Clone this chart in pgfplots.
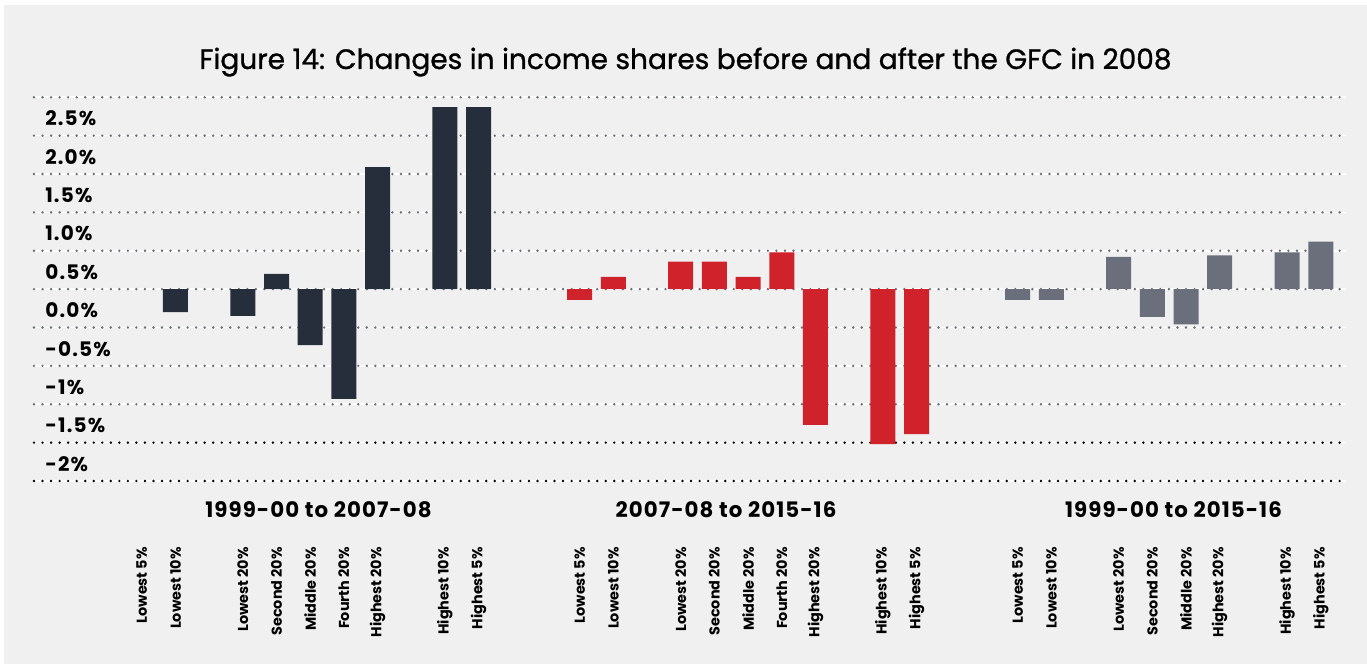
\documentclass[border=0pt]{standalone}
\usepackage{fontspec}
\setmainfont{Poppins}
\newfontfamily\titlefont[FakeBold=1]{Poppins}
\newfontfamily\yfont[LetterSpace=6]{Poppins}
\newfontfamily\grpfont[LetterSpace=5]{Poppins}
\usepackage{pgfplots}
\pgfplotsset{compat=1.18}
\definecolor{bg}{HTML}{F0F0F0}
\definecolor{navy}{HTML}{262D3B}
\definecolor{myred}{HTML}{D0222A}
\definecolor{mygray}{HTML}{6B6F7B}
\definecolor{dotgray}{HTML}{6A6E7A}
\begin{document}
\begin{tikzpicture}
\fill[white] (0,0) rectangle (1025.25pt,498pt);
\fill[bg] (3pt,0) rectangle (1025.25pt,494.25pt);
\begin{axis}[
  at={(25.5pt,137.25pt)}, anchor=south west,
  scale only axis, width=984pt, height=287.8pt,
  xmin=-3.2, xmax=35.75, ymin=-2.5, ymax=2.5,
  axis line style={draw=none}, major tick length=0pt,
  ytick={-1.5,-1,-0.5,0,0.5,1,1.5,2,2.5},
  yticklabels={-1.5\%,-1\%,-0.5\%,0.0\%,0.5\%,1.0\%,1.5\%,2.0\%,2.5\%},
  extra y ticks={-2,-2.5},
  extra y tick labels={-2\%,{}},
  ymajorgrids,
  major grid style={draw=dotgray, line width=2pt, line cap=round, dash pattern=on 0pt off 6.4pt, preaction={draw=white, line width=1.2pt, solid}},
  extra y tick style={major grid style={draw=black, line width=2pt, line cap=round, dash pattern=on 0pt off 6.4pt, preaction={draw=white, line width=1.2pt, solid}}},
  yticklabel style={anchor=west, inner sep=0pt, xshift=8.25pt, yshift=-15.9pt, font=\yfont\fontsize{15}{18}\selectfont\bfseries},
  xtick={0,1,3,4,5,6,7,9,10,13,14,16,17,18,19,20,22,23,26,27,29,30,31,32,34,35},
  xticklabels={Lowest 5\%,Lowest 10\%,Lowest 20\%,Second 20\%,Middle 20\%,Fourth 20\%,Highest 20\%,Highest 10\%,Highest 5\%,
    Lowest 5\%,Lowest 10\%,Lowest 20\%,Second 20\%,Middle 20\%,Fourth 20\%,Highest 20\%,Highest 10\%,Highest 5\%,
    Lowest 5\%,Lowest 10\%,Lowest 20\%,Second 20\%,Middle 20\%,Highest 20\%,Highest 10\%,Highest 5\%},
  xticklabel style={rotate=90, anchor=east, inner sep=0pt, font=\fontsize{10.8}{13}\selectfont\bfseries},
  xticklabel shift=49.5pt,
  clip=false,
]
\addplot[ybar, bar width=0.742, bar shift=0pt, fill=navy, draw=none] coordinates {
  (1,-0.30) (3,-0.35) (4,0.20) (5,-0.73) (6,-1.43) (7,1.59) (9,2.37) (10,2.37)};
\addplot[ybar, bar width=0.742, bar shift=0pt, fill=myred, draw=none] coordinates {
  (13,-0.14) (14,0.16) (16,0.36) (17,0.36) (18,0.16) (19,0.48) (20,-1.77) (22,-2.02) (23,-1.89)};
\addplot[ybar, bar width=0.742, bar shift=0pt, fill=mygray, draw=none] coordinates {
  (26,-0.14) (27,-0.14) (29,0.42) (30,-0.36) (31,-0.46) (32,0.44) (34,0.48) (35,0.62)};
\end{axis}
\node[anchor=base, font=\titlefont\fontsize{21}{25}\selectfont] at (514.1pt,446.25pt) {Figure 14: Changes in income shares before and after the GFC in 2008};
\node[anchor=base, font=\grpfont\fontsize{16}{19}\selectfont\bfseries] at (238.9pt,109.5pt) {1999-00 to 2007-08};
\node[anchor=base, font=\grpfont\fontsize{16}{19}\selectfont\bfseries] at (544.5pt,109.5pt) {2007-08 to 2015-16};
\node[anchor=base, font=\grpfont\fontsize{16}{19}\selectfont\bfseries] at (880.1pt,109.5pt) {1999-00 to 2015-16};
\pgfresetboundingbox
\path[use as bounding box] (0,0) rectangle (1025.25pt,498pt);
\end{tikzpicture}
\end{document}
